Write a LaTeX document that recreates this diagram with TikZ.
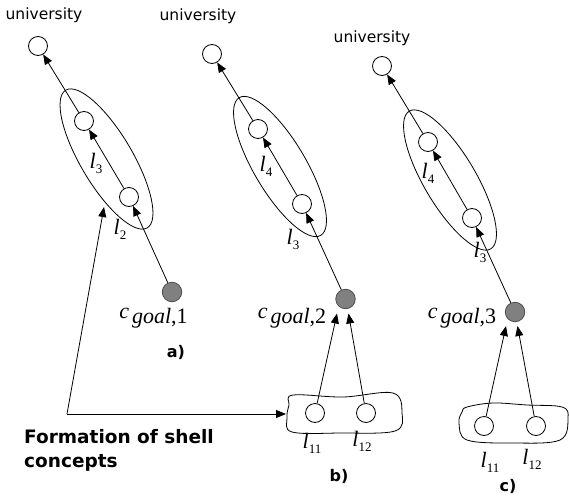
\documentclass[tikz,border=0pt]{standalone}
\usepackage{fontspec}
\setmainfont{Liberation Serif}
\newfontfamily\uisans{DejaVu Sans}
\usetikzlibrary{arrows.meta,shapes.geometric}
\newcommand\lsub[1]{l\raisebox{-5pt}{\upshape\fontsize{13}{13}\selectfont #1}}
\newcommand\cgoal[1]{\raisebox{5pt}{c}\hspace{3pt}goal\textup{,#1}}
\tikzset{
  cnode/.style={circle,draw,fill=white,minimum size=19pt,inner sep=0pt,line width=0.8pt},
  gnode/.style={circle,draw=black!70,fill=black!50,minimum size=19.5pt,inner sep=0pt,line width=0.8pt},
  arr/.style={-{Triangle[length=10pt,width=8pt]},line width=0.8pt},
  shell/.style={ellipse,draw,minimum width=160pt,minimum height=52pt,inner sep=0pt,rotate=120.6,line width=0.8pt},
  blob/.style={draw,line width=0.8pt},
  univ/.style={font=\uisans\fontsize{15.5}{18}\selectfont,inner sep=0pt},
  lab/.style={font=\fontsize{22}{24}\selectfont\itshape,inner sep=0pt},
  plab/.style={font=\uisans\bfseries\fontsize{16}{18}\selectfont,inner sep=0pt},
  ftext/.style={font=\uisans\bfseries\fontsize{18.5}{24}\selectfont,inner sep=0pt,align=left}
}
\begin{document}
\begin{tikzpicture}[x=1pt,y=-1pt]
\useasboundingbox (0,0) rectangle (569,495);
% panel a
\node[shell] (ea) at (106.5,159) {};
\node[cnode] (ta) at (38,46) {};
\node[cnode] (a1) at (84,121) {};
\node[cnode] (a2) at (129,197) {};
\node[gnode] (ga) at (172,292) {};
\draw[arr] (ga) -- (a2);
\draw[arr] (a2) -- (a1);
\draw[arr] (a1) -- (ta);
\node[univ] (ua) at (44,15) {university};
\node[lab] (la3) at (96,163) {\lsub{3}};
\node[lab] (la2) at (120,229) {\lsub{2}};
\node[lab] (cga) at (153.5,318) {\cgoal{1}};
\node[plab] (pa) at (176,352) {a)};
% panel b
\node[shell] (eb) at (280,166.5) {};
\node[cnode] (tb) at (212,54) {};
\node[cnode] (b1) at (258,129) {};
\node[cnode] (b2) at (302,204) {};
\node[gnode] (gb) at (345.5,299) {};
\draw[arr] (gb) -- (b2);
\draw[arr] (b2) -- (b1);
\draw[arr] (b1) -- (tb);
\node[univ] (ub) at (198,16) {university};
\node[lab] (lb4) at (266,166) {\lsub{4}};
\node[lab] (lb3) at (293,239) {\lsub{3}};
\node[lab] (cgb) at (292,318) {\cgoal{2}};
\draw[blob] plot[smooth cycle,tension=0.6] coordinates {(293,395) (343,397) (393,393) (402,413) (395,431) (340,433) (292,432) (287,418) (289,405)};
\node[cnode] (b11) at (315,413) {};
\node[cnode] (b12) at (366,413) {};
\coordinate (gbl) at (337,313.5);
\coordinate (gbr) at (348.5,313.5);
\draw[arr] (b11) -- (gbl);
\draw[arr] (b12) -- (gbr);
\node[lab] (lb11) at (312,443) {\lsub{11}};
\node[lab] (lb12) at (362,441) {\lsub{12}};
\node[plab] (pb) at (339,476) {b)};
% panel c
\node[shell] (ec) at (450,180) {};
\node[cnode] (tc) at (382,66) {};
\node[cnode] (c1) at (428,142) {};
\node[cnode] (c2) at (472,218) {};
\node[gnode] (gc) at (515,312) {};
\draw[arr] (gc) -- (c2);
\draw[arr] (c2) -- (c1);
\draw[arr] (c1) -- (tc);
\node[univ] (uc) at (372,38) {university};
\node[lab] (lc4) at (428,173) {\lsub{4}};
\node[lab] (lc3) at (480,252) {\lsub{3}};
\node[lab] (cgc) at (462,318) {\cgoal{3}};
\draw[blob] plot[smooth cycle,tension=0.6] coordinates {(467,407) (493,403) (527,405) (562,407) (568,418) (560,440) (513,443) (467,440) (459,423) (462,412)};
\node[cnode] (c11) at (484,426) {};
\node[cnode] (c12) at (536,426) {};
\coordinate (gcl) at (506,326);
\coordinate (gcr) at (517.5,326);
\draw[arr] (c11) -- (gcl);
\draw[arr] (c12) -- (gcr);
\node[lab] (lc11) at (490,462) {\lsub{11}};
\node[lab] (lc12) at (532,459) {\lsub{12}};
\node[plab] (pc) at (508,486) {c)};
% formation of shell concepts
\coordinate (corner) at (67,414);
\coordinate (tipa) at (104,207);
\coordinate (tipb) at (286,414);
\draw[arr] (corner) -- (tipa);
\draw[arr] (corner) -- (tipb);
\node[ftext,anchor=west] (form) at (24,450) {Formation of shell\\concepts};
\end{tikzpicture}
\end{document}
